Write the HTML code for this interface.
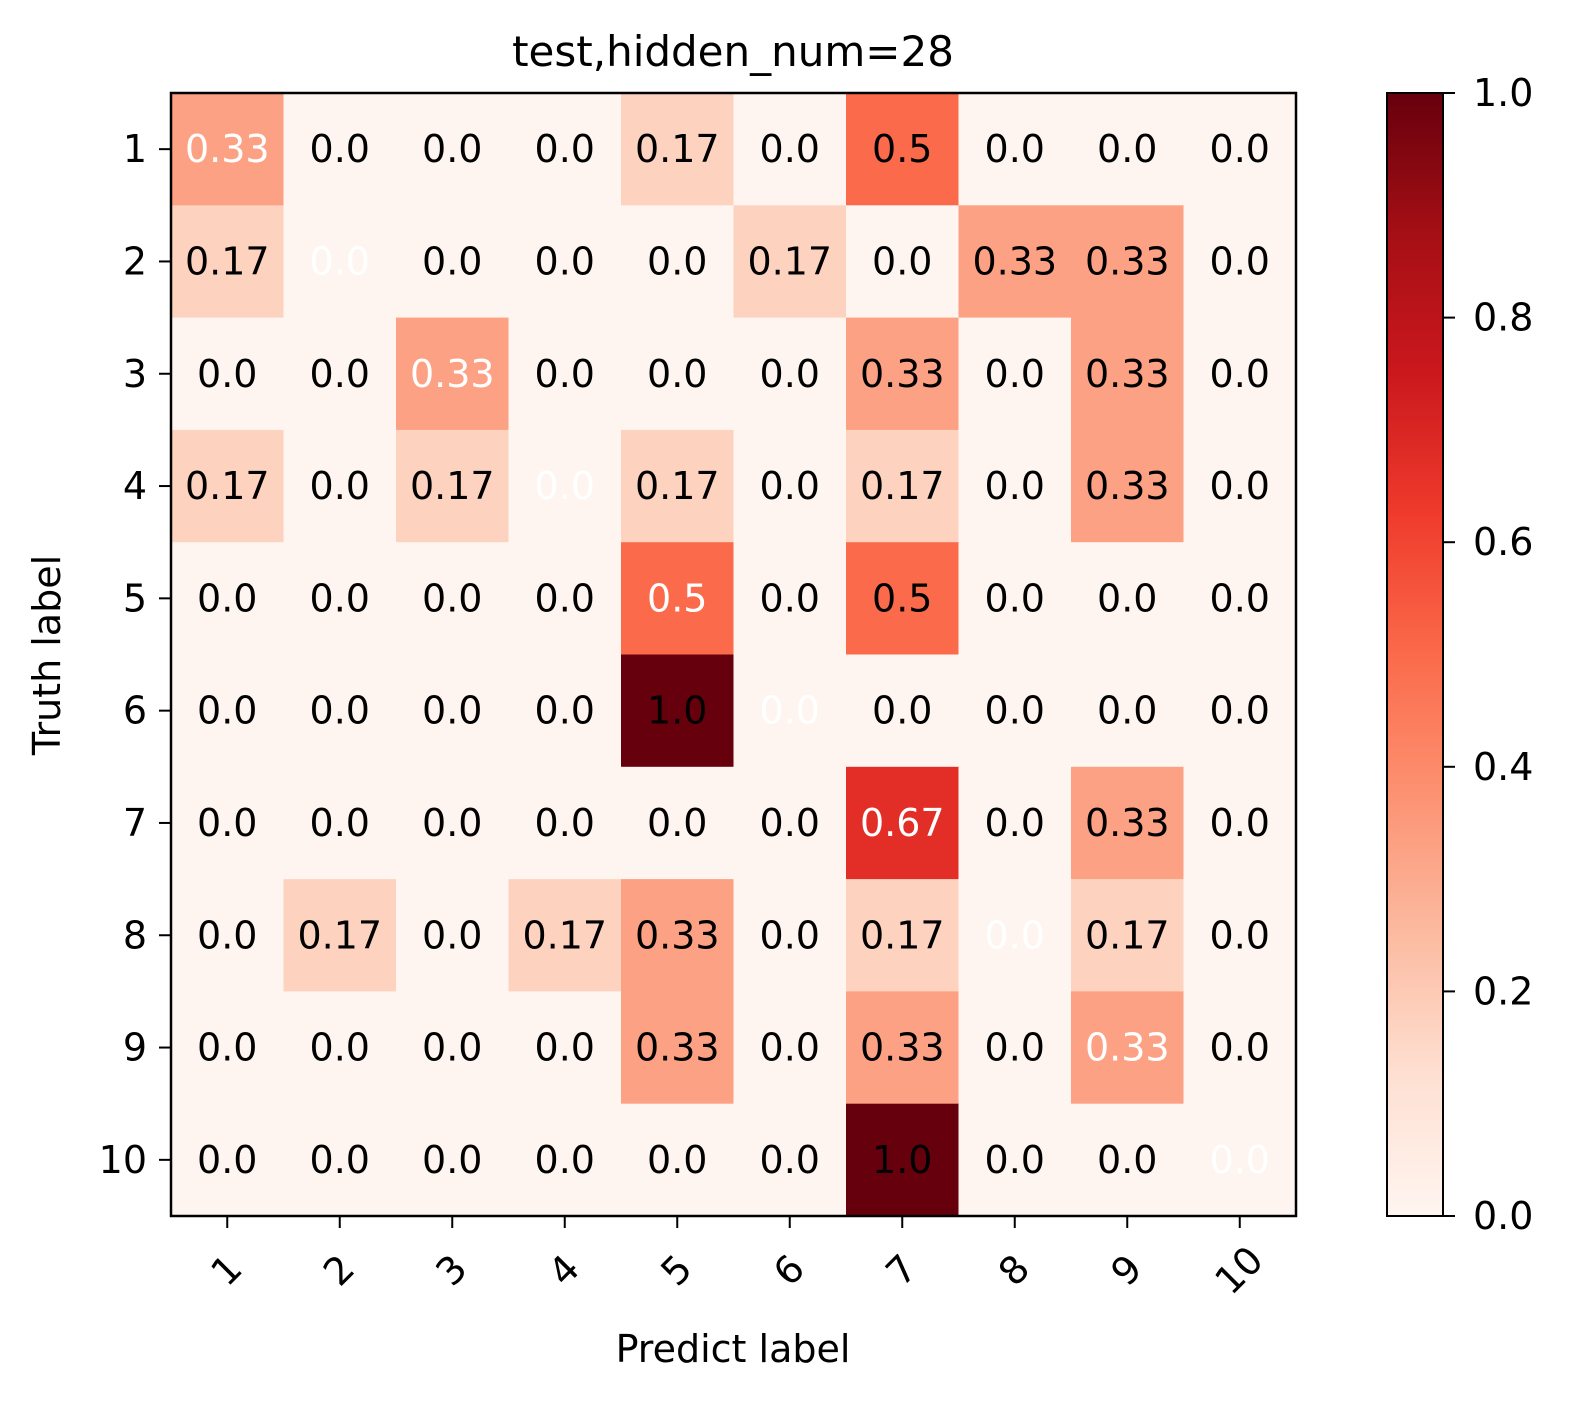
<!DOCTYPE html>
<html><head><meta charset="utf-8"><style>
html,body{margin:0;padding:0;background:#fff;}
svg{display:block;font-family:"DejaVu Sans","Liberation Sans",sans-serif;}
</style></head><body>
<svg id="chart" width="1571" height="1404" viewBox="0 0 1571 1404"></svg>
<script>
const categories=["1","2","3","4","5","6","7","8","9","10"];
const row1=[0.33,0,0,0,0.17,0,0.5,0,0,0];
const row2=[0.17,0,0,0,0,0.17,0,0.33,0.33,0];
const row3=[0,0,0.33,0,0,0,0.33,0,0.33,0];
const row4=[0.17,0,0.17,0,0.17,0,0.17,0,0.33,0];
const row5=[0,0,0,0,0.5,0,0.5,0,0,0];
const row6=[0,0,0,0,1.0,0,0,0,0,0];
const row7=[0,0,0,0,0,0,0.67,0,0.33,0];
const row8=[0,0.17,0,0.17,0.33,0,0.17,0,0.17,0];
const row9=[0,0,0,0,0.33,0,0.33,0,0.33,0];
const row10=[0,0,0,0,0,0,1.0,0,0,0];
const matrix=[row1,row2,row3,row4,row5,row6,row7,row8,row9,row10];
const cbTicks=[0,0.2,0.4,0.6,0.8,1.0];

const NS="http://www.w3.org/2000/svg";
const svg=document.getElementById('chart');
function mk(tag,attrs,parent){const e=document.createElementNS(NS,tag);for(const k in attrs)e.setAttribute(k,attrs[k]);(parent||svg).appendChild(e);return e;}
const L=171,R=1296,T=93,B=1216;
const n=categories.length,cw=(R-L)/n,ch=(B-T)/n;
const xPos=i=>L+cw*i, yPos=j=>T+ch*j;
const stops=["#fff5f0","#fee0d2","#fcbba1","#fc9272","#fb6a4a","#ef3b2c","#cb181d","#a50f15","#67000d"];
function hex(h){return [1,3,5].map(i=>parseInt(h.substr(i,2),16));}
function cmap(v){v=Math.max(0,Math.min(1,v));const p=v*(stops.length-1);const i=Math.min(Math.floor(p),stops.length-2);const f=p-i;const a=hex(stops[i]),b=hex(stops[i+1]);return "rgb("+a.map((c,k)=>Math.round(c+(b[k]-c)*f)).join(",")+")";}
function fmt(v){return v===0?"0.0":(v===1?"1.0":String(v));}

let t=mk('text',{x:733,y:66,'font-size':42,'text-anchor':'middle',fill:'#000'});t.textContent="test,hidden_num=28";



const g=mk('g',{});


matrix.forEach((row,j)=>row.forEach((v,i)=>{
  const r=mk('rect',{x:xPos(i),y:yPos(j),width:cw+0.5,height:ch+0.5,fill:cmap(v)},g);
  
  
  const tx=mk('text',{x:xPos(i)+cw/2,y:yPos(j)+ch/2+13,'font-size':38,'text-anchor':'middle',fill:(i===j?'#fff':'#000')},g);
  tx.textContent=fmt(v);
  
  
}));
const fr=mk('rect',{x:L,y:T,width:R-L,height:B-T,fill:'none',stroke:'#000','stroke-width':2.5});



categories.forEach((c,k)=>{
  const yc=yPos(k)+ch/2;
  mk('line',{x1:L-12,x2:L,y1:yc,y2:yc,stroke:'#000','stroke-width':2});
  const yl=mk('text',{x:L-24,y:yc+13,'font-size':38,'text-anchor':'end'});yl.textContent=c;
  
  
  const xc=xPos(k)+cw/2;
  mk('line',{x1:xc,x2:xc,y1:B,y2:B+12,stroke:'#000','stroke-width':2});
  const xl=mk('text',{x:0,y:0,'font-size':38,'text-anchor':'middle',transform:`translate(${xc},${B+55}) rotate(-45) translate(0,12)`});xl.textContent=c;
  
  
});
let xt=mk('text',{x:733,y:1362,'font-size':38,'text-anchor':'middle'});xt.textContent="Predict label";


let yt=mk('text',{x:0,y:0,'font-size':38,'text-anchor':'middle',transform:'translate(60,655) rotate(-90)'});yt.textContent="Truth label";



const CL=1387,CR=1443;
const defs=mk('defs',{});
const lg=mk('linearGradient',{id:'cbg',x1:0,y1:1,x2:0,y2:0},defs);
stops.forEach((s,i)=>mk('stop',{offset:i/(stops.length-1),'stop-color':s},lg));
const cb=mk('rect',{x:CL,y:T,width:CR-CL,height:B-T,fill:'url(#cbg)',stroke:'#000','stroke-width':2});


cbTicks.forEach(v=>{
  const y=B-(B-T)*v;
  mk('line',{x1:CR,x2:CR+12,y1:y,y2:y,stroke:'#000','stroke-width':2});
  const l=mk('text',{x:CR+30,y:y+13,'font-size':38});l.textContent=v.toFixed(1);
  
  
});
</script>
</body></html>
